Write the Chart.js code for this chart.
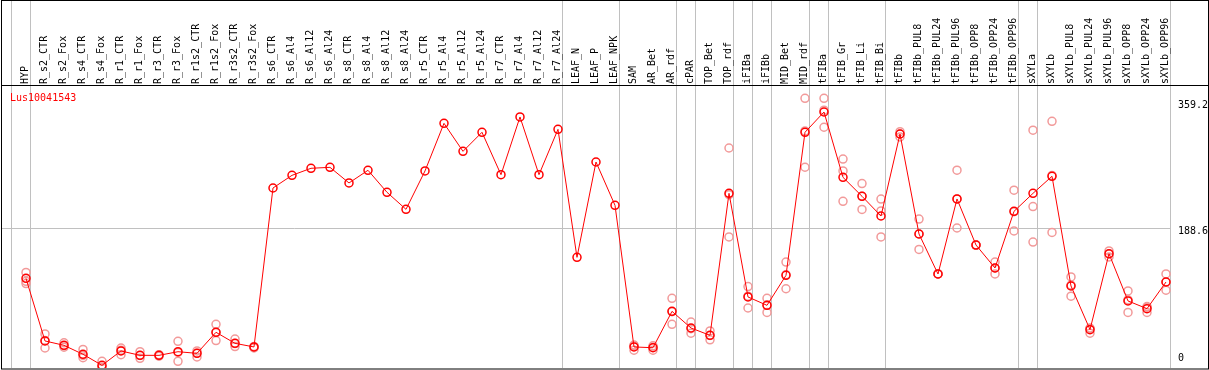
<!DOCTYPE html>
<html>
<head>
<meta charset="utf-8">
<script src="https://cdn.jsdelivr.net/npm/chart.js@4/dist/chart.umd.min.js"></script>
<style>
  body { margin: 0; background: #fff; }
  #wrap { width: 1209px; height: 370px; }
</style>
</head>
<body>
<div id="wrap"><canvas id="exprChart" width="1209" height="370"></canvas></div>
<script>
// --- DATA ---
const geneId = 'Lus10041543';

const categories = [
    'HYP', 'R_s2_CTR', 'R_s2_Fox', 'R_s4_CTR', 'R_s4_Fox', 'R_r1_CTR', 'R_r1_Fox', 'R_r3_CTR', 'R_r3_Fox',
    'R_r1s2_CTR', 'R_r1s2_Fox', 'R_r3s2_CTR', 'R_r3s2_Fox',
    'R_s6_CTR', 'R_s6_Al4', 'R_s6_Al12', 'R_s6_Al24', 'R_s8_CTR', 'R_s8_Al4', 'R_s8_Al12', 'R_s8_Al24',
    'R_r5_CTR', 'R_r5_Al4', 'R_r5_Al12', 'R_r5_Al24', 'R_r7_CTR', 'R_r7_Al4', 'R_r7_Al12', 'R_r7_Al24',
    'LEAF_N', 'LEAF_P', 'LEAF_NPK', 'SAM', 'AR_Bet', 'AR_rdf', 'cPAR', 'TOP_Bet', 'TOP_rdf',
    'iFIBa', 'iFIBb', 'MID_Bet', 'MID_rdf', 'tFIBa', 'tFIB_Gr', 'tFIB_Li', 'tFIB_Bi', 'tFIBb',
    'tFIBb_PUL8', 'tFIBb_PUL24', 'tFIBb_PUL96', 'tFIBb_OPP8', 'tFIBb_OPP24', 'tFIBb_OPP96',
    'sXYLa', 'sXYLb', 'sXYLb_PUL8', 'sXYLb_PUL24', 'sXYLb_PUL96', 'sXYLb_OPP8', 'sXYLb_OPP24', 'sXYLb_OPP96'
];

// mean expression per sample (red line)
const means = [
    121, 36.5, 30.6, 18.5, 3.6, 23, 17.1, 17.1, 22, 19.8, 48.2, 33.3, 28.4,
    243, 260.1, 269.6, 270.9, 249.8, 266.9, 237.2, 214.2,
    266, 330.3, 292.5, 318.2, 261, 338.9, 261, 322.2,
    149.4, 278.1, 219.6, 28.4, 27.4, 76.5, 54, 44.1, 235.8,
    95.9, 84.6, 125.1, 318.2, 345.6, 257.4, 231.8, 205.2, 315.9,
    180.9, 126.9, 228.2, 166, 135, 211.5,
    235.8, 258.8, 110.7, 51.8, 154.3, 90.5, 80.1, 116.1
];

// replicates (pale circles), null where none shown
const rep1 = [
    129, 46, 34, 25, 9, 27, 22, 18, 36, 23, 59, 39, 29,
    null, null, null, null, null, null, null, null,
    null, null, null, null, null, null, null, null,
    null, null, null, 31, 30, 94, 62, 50, 297,
    110, 94, 143, 364, 364, 282, 249, 228, 319,
    201, 127, 267, 166, 143, 240,
    321, 333, 123, 54, 158, 104, 83, 127
];
const rep2 = [
    117, 27, 28, 14, 1, 18, 13, 16, 9, 15, 37, 29, 27,
    null, null, null, null, null, null, null, null,
    null, null, null, null, null, null, null, null,
    null, null, null, 24, 24, 59, 47, 38, 177,
    81, 75, 107, 271, 325, 266, 214, 212, 312,
    160, 127, 189, 166, 127, 185,
    218, 183, 97, 47, 150, 75, 75, 105
];
const rep3 = [
    114, 37, 30, 17, 1, 24, 17, 17, 21, 20, 48, 33, 28,
    null, null, null, null, null, null, null, null,
    null, null, null, null, null, null, null, null,
    null, null, null, 30, 28, 76, 53, 44, 234,
    97, 85, 126, 320, 348, 225, 232, 177, 316,
    181, 127, 228, 166, 135, 211,
    170, 260, 112, 53, 154, 92, 82, 116
];

// group separators sit just after these sample indexes
const groupEnds = [-1, 0, 28, 31, 34, 35, 37, 38, 39, 41, 42, 45, 52, 53, 60];
const yTicks = [0, 188.6, 359.2];
const yMid = 188.6;

// --- HELPERS ---
const MONO = 'DejaVu Sans Mono';
const GRID = '#c0c0c0';
const toPoints = arr => arr.map((v, i) => ({ x: i, y: v }));
const sepValues = groupEnds.map(i => i + 0.25);
const xTickValues = categories.map((c, i) => i).concat(sepValues).sort((a, b) => a - b);
const isSep = c => c.tick && !Number.isInteger(c.tick.value);

// no extra room for overflowing labels, the frame is fixed
function noPadding(s) {
    s.paddingTop = 0;
    s.paddingBottom = 0;
    s.paddingLeft = 0;
    s.paddingRight = 0;
}

// outer frame + gene name
const framePlugin = {
    id: 'frame',
    afterDraw(chart) {
        const ctx = chart.ctx;
        const area = chart.chartArea;
        ctx.save();
        ctx.strokeStyle = '#000';
        ctx.lineWidth = 1;
        ctx.strokeRect(1.5, 0.5, chart.width - 2, area.bottom + 0.5);
        ctx.beginPath();
        ctx.moveTo(1, area.top - 0.5);
        ctx.lineTo(chart.width, area.top - 0.5);
        ctx.stroke();
        ctx.fillStyle = '#ff0000';
        ctx.font = '10px "' + MONO + '"';
        ctx.textBaseline = 'alphabetic';
        ctx.fillText(geneId, 10, 101);
        ctx.restore();
    }
};

const repStyle = {
    showLine: false,
    pointRadius: 4,
    pointBorderWidth: 1.5,
    pointBorderColor: '#f29a9a',
    pointBackgroundColor: 'transparent'
};

// --- CHART ---
const ctx = document.getElementById('exprChart').getContext('2d');
const chart = new Chart(ctx, {
    type: 'line',
    data: {
        datasets: [
            {
                label: 'mean',
                data: toPoints(means),
                borderColor: '#ff0000',
                borderWidth: 1,
                pointRadius: 4,
                pointBorderWidth: 1.5,
                pointBorderColor: '#ff0000',
                pointBackgroundColor: 'transparent',
                tension: 0
            },
            Object.assign({ label: 'rep1', data: toPoints(rep1) }, repStyle),
            Object.assign({ label: 'rep2', data: toPoints(rep2) }, repStyle),
            Object.assign({ label: 'rep3', data: toPoints(rep3) }, repStyle)
        ]
    },
    options: {
        responsive: false,
        animation: false,
        layout: { autoPadding: false, padding: { top: 1, left: 2, right: 1, bottom: 2 } },
        plugins: { legend: { display: false }, tooltip: { enabled: false } },
        scales: {
            x: {
                type: 'linear',
                position: 'top',
                min: -1.263,
                max: 60.263,
                afterBuildTicks: s => { s.ticks = xTickValues.map(v => ({ value: v })); },
                afterFit: s => { s.height = 85; noPadding(s); },
                border: { display: false },
                grid: { color: c => isSep(c) ? GRID : 'transparent', tickColor: c => isSep(c) ? GRID : 'transparent', tickLength: 85 },
                ticks: {
                    autoSkip: false,
                    minRotation: 90,
                    maxRotation: 90,
                    padding: -83,
                    labelOffset: 11,
                    color: '#000',
                    font: { family: MONO, size: 10 },
                    callback: v => Number.isInteger(v) ? categories[v] : ''
                }
            },
            y: {
                type: 'linear',
                position: 'right',
                min: 0,
                max: 380.7,
                afterBuildTicks: s => { s.ticks = yTicks.map(v => ({ value: v })); },
                afterFit: s => { s.width = 37; noPadding(s); },
                border: { display: false },
                grid: { drawTicks: false, color: c => c.tick && c.tick.value === yMid ? GRID : 'transparent' },
                ticks: {
                    padding: 7,
                    color: '#000',
                    // two-line labels: hang the text below its tick (0 sits above the bottom)
                    font: c => ({ family: MONO, size: 10, lineHeight: c.tick && c.tick.value === 0 ? 1.86 : 0.7 }),
                    callback: v => v === 0 ? ['0', ''] : ['', String(v)]
                }
            }
        }
    },
    plugins: [framePlugin]
});
</script>
</body>
</html>
